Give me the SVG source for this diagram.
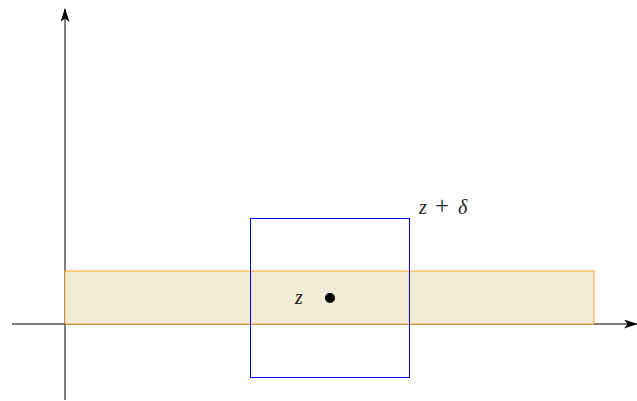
<svg xmlns="http://www.w3.org/2000/svg" width="637" height="401" viewBox="0 0 637 401">
<defs>
<marker id="ah" viewBox="0 0 14 9" refX="13" refY="4.5" markerWidth="14" markerHeight="9" markerUnits="userSpaceOnUse" orient="auto">
<path d="M0,0 L14,4.5 L0,9 L3.5,4.5 Z" fill="#000"/>
</marker>
</defs>
<style>
.axis{stroke:#000;stroke-width:1;fill:none}
</style>
<rect width="637" height="401" fill="#fff"/>
<g id="connectors">
<line class="axis" x1="65" y1="400" x2="65" y2="9" marker-end="url(#ah)"/>
<line class="axis" x1="12" y1="324" x2="637" y2="324" marker-end="url(#ah)"/>
</g>
<g id="band">
<rect x="65" y="271" width="529" height="53" fill="#f2ecd6" stroke="#f7a531" stroke-width="1"/>
</g>
<g id="square">
<rect x="250.5" y="218.5" width="159" height="159" fill="none" stroke="#0000ff" stroke-width="1"/>
</g>
<g id="point">
<circle cx="330" cy="298" r="5" fill="#000"/>
<text x="295" y="304" font-family="'Liberation Serif', 'DejaVu Serif', serif" font-style="italic" font-size="20" fill="#222">z</text>
</g>
<g id="label">
<text x="419" y="214" font-family="'Liberation Serif', 'DejaVu Serif', serif" font-style="italic" font-size="20" fill="#222">z<tspan x="435" font-style="normal" font-size="25">+</tspan><tspan x="458">δ</tspan></text>
</g>
</svg>
